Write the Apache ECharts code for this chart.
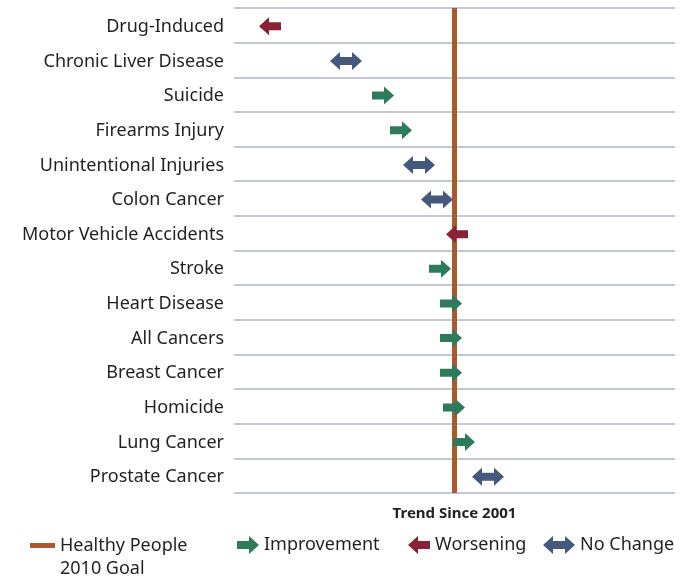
<!DOCTYPE html>
<html>
<head>
<meta charset="utf-8">
<script src="https://cdn.jsdelivr.net/npm/echarts@6/dist/echarts.min.js"></script>
<style>
html,body{margin:0;padding:0;background:#fff;}
#chart{width:691px;height:576px;}
</style>
</head>
<body>
<div id="chart"></div>
<script>
// ---- data ----
const categories = ['Drug-Induced','Chronic Liver Disease','Suicide','Firearms Injury','Unintentional Injuries','Colon Cancer','Motor Vehicle Accidents','Stroke','Heart Disease','All Cancers','Breast Cancer','Homicide','Lung Cancer','Prostate Cancer'];
const positions = [36,112,149,167,185,203,223,206,217,217,217,220,230,254];
const trends = ['Worsening','No Change','Improvement','Improvement','No Change','No Change','Worsening','Improvement','Improvement','Improvement','Improvement','Improvement','Improvement','No Change'];
const goalValue = 220;
const goalName = 'Healthy People 2010 Goal';
const axisTitle = 'Trend Since 2001';

// ---- shapes / styles ----
const ICON = {
  'Improvement': 'path://M0,5 L12,5 L12,0 L22,9 L12,18 L12,13 L0,13 Z',
  'Worsening': 'path://M22,5 L10,5 L10,0 L0,9 L10,18 L10,13 L22,13 Z',
  'No Change': 'path://M0,9 L10,0 L10,5 L22,5 L22,0 L32,9 L22,18 L22,13 L10,13 L10,18 Z'
};
const SIZE = {'Improvement':[22,18],'Worsening':[22,18],'No Change':[32,18]};
const COLOR = {'Improvement':'#2E7B5B','Worsening':'#8A2236','No Change':'#45597E'};
const GOAL_COLOR = '#A9592B';
const FONT = 'Noto Sans';

const trendSeries = ['Improvement','Worsening','No Change'].map(t => ({
  name: t,
  type: 'scatter',
  symbol: ICON[t],
  symbolSize: SIZE[t],
  symbolOffset: [0, 1],
  itemStyle: {color: COLOR[t], opacity: 1},
  z: 5,
  data: categories.map((c,i) => trends[i] === t ? [positions[i], c] : null).filter(d => d)
}));

const chart = echarts.init(document.getElementById('chart'));
const legendBase = {
  orient: 'horizontal', padding: 0, top: 536,
  textStyle: {fontFamily: FONT, fontSize: 18, color: '#231F20'},
  selectedMode: false
};
chart.setOption({
  animation: false,
  grid: {left: 234, right: 16, top: 8, bottom: 83},
  xAxis: {
    type: 'value', min: 0, max: 441,
    axisLine: {show: false}, axisTick: {show: false}, axisLabel: {show: false}, splitLine: {show: false},
    name: axisTitle, nameLocation: 'middle', nameGap: 13,
    nameTextStyle: {fontFamily: FONT, fontSize: 15, fontWeight: 'bold', color: '#231F20'}
  },
  yAxis: {
    type: 'category', inverse: true, data: categories,
    axisLine: {show: false}, axisTick: {show: false},
    axisLabel: {fontFamily: FONT, fontSize: 18, color: '#231F20', margin: 10, lineHeight: 3,
      formatter: v => ' \n' + v},
    splitLine: {show: true, lineStyle: {color: '#AEB6C4', width: 1.5}}
  },
  legend: [
    Object.assign({}, legendBase, {left: 30, top: 511, data: [{name: goalName, icon: 'rect'}], itemWidth: 25, itemHeight: 5, itemGap: 0,
      formatter: () => ' \nHealthy People\n2010 Goal',
      textStyle: {fontFamily: FONT, fontSize: 18, color: '#231F20', lineHeight: 23}}),
    Object.assign({}, legendBase, {left: 237, data: [{name: 'Improvement', icon: ICON['Improvement']}], itemWidth: 22, itemHeight: 18}),
    Object.assign({}, legendBase, {left: 408, data: [{name: 'Worsening', icon: ICON['Worsening']}], itemWidth: 22, itemHeight: 18, itemGap: 0}),
    Object.assign({}, legendBase, {left: 543, data: [{name: 'No Change', icon: ICON['No Change']}], itemWidth: 32, itemHeight: 18})
  ],
  series: [
    {
      name: goalName, type: 'line', data: [], color: GOAL_COLOR,
      itemStyle: {color: GOAL_COLOR},
      markLine: {
        silent: true, symbol: 'none', label: {show: false},
        lineStyle: {color: GOAL_COLOR, width: 5, type: 'solid'},
        data: [{xAxis: goalValue}]
      },
      z: 3
    }
  ].concat(trendSeries)
});
</script>
</body>
</html>
